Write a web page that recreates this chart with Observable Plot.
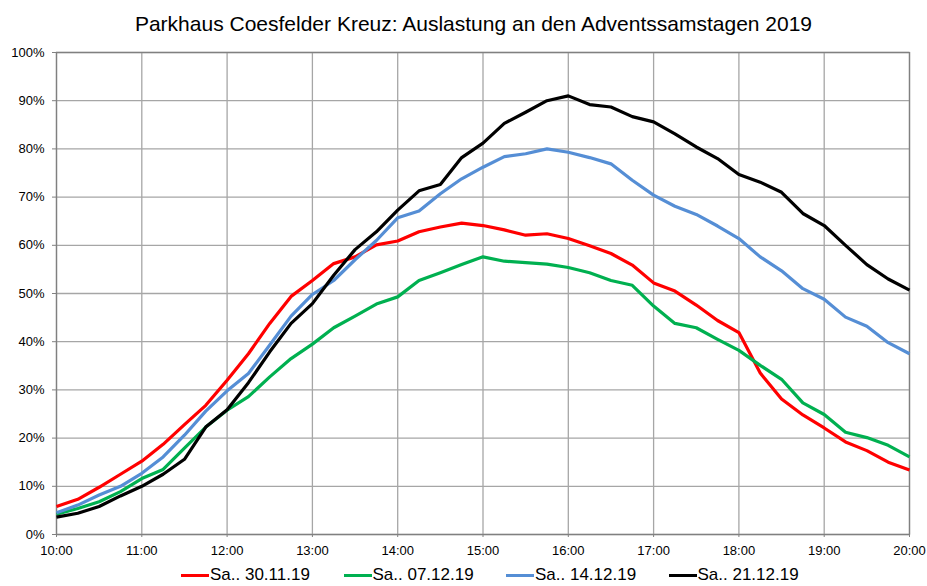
<!DOCTYPE html>
<html>
<head>
<meta charset="utf-8">
<script src="https://cdn.jsdelivr.net/npm/d3@7"></script>
<script src="https://cdn.jsdelivr.net/npm/@observablehq/plot@0.6"></script>
<style>
  html, body { margin: 0; padding: 0; background: #fff; }
  body { width: 927px; height: 586px; overflow: hidden; position: relative; font-family: "Liberation Sans", Arial, sans-serif; }
  #title { position: absolute; top: 13px; left: 10px; width: 927px; text-align: center; font-size: 21px; line-height: 21px; white-space: nowrap; color: #000; }
  #chart { position: absolute; top: 40px; left: 0; }
  #legend { position: absolute; top: 566px; left: 0; width: 927px; height: 20px; }
  .item { position: absolute; top: 0; display: flex; align-items: flex-start; white-space: nowrap; }
  .sw { width: 28px; height: 3px; margin-top: 8px; }
  .lbl { font-size: 17px; line-height: 17px; margin-left: 1px; color: #000; }
</style>
</head>
<body>
<div id="title">Parkhaus Coesfelder Kreuz: Auslastung an den Adventssamstagen 2019</div>
<div id="chart"></div>
<div id="legend"></div>
<script>
const times = ["10:00","10:15","10:30","10:45","11:00","11:15","11:30","11:45","12:00","12:15","12:30","12:45","13:00","13:15","13:30","13:45","14:00","14:15","14:30","14:45","15:00","15:15","15:30","15:45","16:00","16:15","16:30","16:45","17:00","17:15","17:30","17:45","18:00","18:15","18:30","18:45","19:00","19:15","19:30","19:45","20:00"];
const hourTicks = ["10:00","11:00","12:00","13:00","14:00","15:00","16:00","17:00","18:00","19:00","20:00"];
const yTickLabels = ["0%","10%","20%","30%","40%","50%","60%","70%","80%","90%","100%"];
const seriesNames = ["Sa.. 30.11.19","Sa.. 07.12.19","Sa.. 14.12.19","Sa.. 21.12.19"];
const seriesColors = ["#ff0000","#00b050","#558ed5","#000000"];

const sat3011 = [5.8,7.3,9.8,12.5,15.2,18.7,22.8,26.8,32.0,37.5,43.8,49.4,52.7,56.2,57.6,60.1,60.9,62.8,63.8,64.6,64.1,63.2,62.1,62.4,61.4,59.9,58.3,55.9,52.2,50.5,47.6,44.4,41.9,33.5,28.1,24.8,22.1,19.2,17.4,15.0,13.4];
const sat0712 = [4.2,5.4,6.8,8.9,11.6,13.5,17.9,22.3,25.8,28.6,32.7,36.5,39.5,42.9,45.3,47.8,49.3,52.7,54.3,56.0,57.6,56.7,56.4,56.1,55.4,54.3,52.7,51.7,47.4,43.8,42.9,40.5,38.2,35.1,32.2,27.3,24.9,21.2,20.1,18.5,16.1];
const sat1412 = [4.5,6.1,8.2,10.0,12.7,16.1,20.6,25.6,29.8,33.4,39.3,45.3,49.8,52.7,57.0,61.0,65.7,67.1,70.7,73.8,76.2,78.4,79.0,80.0,79.3,78.2,76.9,73.5,70.4,68.1,66.4,64.0,61.4,57.6,54.7,51.0,48.8,45.1,43.2,39.8,37.5];
const sat2112 = [3.6,4.4,5.8,8.0,10.0,12.5,15.6,22.3,25.9,31.5,37.9,43.8,47.9,53.8,59.1,62.8,67.3,71.3,72.6,78.2,81.2,85.3,87.6,90.0,91.0,89.2,88.7,86.7,85.6,83.1,80.4,78.0,74.7,73.1,71.0,66.6,64.1,60.0,56.0,53.0,50.7];

const toH = t => { const [h, m] = t.split(":").map(Number); return h + m / 60; };
const xTickVals = hourTicks.map(toH);
const yTickVals = yTickLabels.map(s => parseFloat(s) / 100);

const rows = [];
[sat3011, sat0712, sat1412, sat2112].forEach((vals, k) => {
  vals.forEach((v, i) => rows.push({ t: toH(times[i]), v: v / 100, s: seriesNames[k] }));
});

const chart = Plot.plot({
  width: 927,
  height: 520,
  marginTop: 12,
  marginBottom: 26,
  marginLeft: 56,
  marginRight: 18,
  style: { fontFamily: "'Liberation Sans', Arial, sans-serif", fontSize: "13px", color: "#000", background: "#fff", overflow: "visible" },
  x: { domain: [10, 20] },
  y: { domain: [0, 1] },
  color: { domain: seriesNames, range: seriesColors },
  marks: [
    Plot.gridX(xTickVals, { stroke: "#a6a6a6", strokeOpacity: 1, strokeWidth: 1.3 }),
    Plot.gridY(yTickVals, { stroke: "#a6a6a6", strokeOpacity: 1, strokeWidth: 1.3 }),
    Plot.frame({ stroke: "#808080", strokeWidth: 1.3 }),
    Plot.line(rows, { x: "t", y: "v", z: "s", stroke: "s", strokeWidth: 3.2, strokeLinejoin: "round", strokeLinecap: "butt" }),
    Plot.axisX(xTickVals, { tickFormat: d => hourTicks[xTickVals.indexOf(d)], tickSize: 3, tickPadding: 8, stroke: "#808080", label: null }),
    Plot.axisY(yTickVals, { tickFormat: d => yTickLabels[yTickVals.indexOf(d)], tickSize: 4, tickPadding: 8, stroke: "#808080", label: null })
  ]
});
document.getElementById("chart").appendChild(chart);

const legend = document.getElementById("legend");
seriesNames.forEach((name, k) => {
  const item = document.createElement("div");
  item.className = "item";
  item.style.left = (181 + k * 162.5) + "px";
  const sw = document.createElement("div");
  sw.className = "sw";
  sw.style.background = seriesColors[k];
  const lbl = document.createElement("span");
  lbl.className = "lbl";
  lbl.textContent = name;
  item.appendChild(sw);
  item.appendChild(lbl);
  legend.appendChild(item);
});
</script>
</body>
</html>
